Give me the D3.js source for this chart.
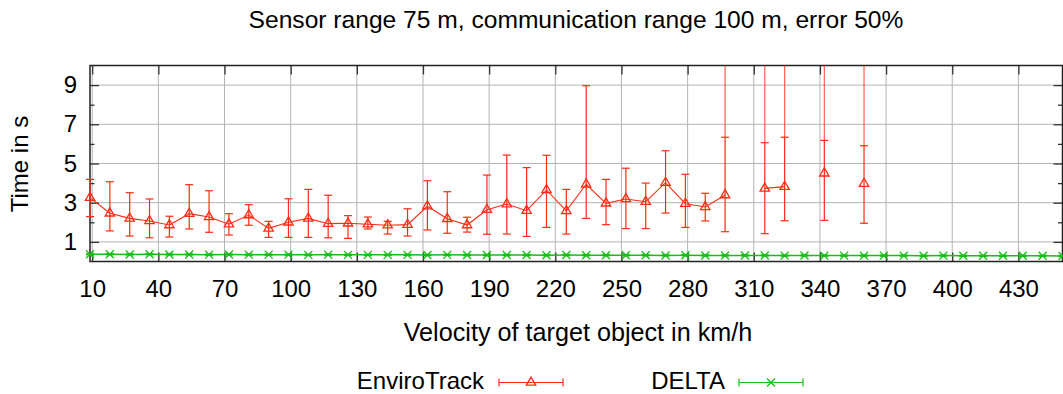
<!DOCTYPE html>
<html>
<head>
<meta charset="utf-8">
<script src="https://cdn.jsdelivr.net/npm/d3@7"></script>
<style>
  body { margin: 0; background: #fff; }
  text { font-family: "Liberation Sans", Arial, Helvetica, sans-serif; fill: #000; }
</style>
</head>
<body>
<svg id="chart" width="1063" height="394"></svg>
<script>
// Target velocities in km/h (steps of 2.5 m/s)
const velocities = [9, 18, 27, 36, 45, 54, 63, 72, 81, 90,
  99, 108, 117, 126, 135, 144, 153, 162, 171, 180,
  189, 198, 207, 216, 225, 234, 243, 252, 261, 270,
  279, 288, 297, 306, 315, 324, 333, 342, 351, 360,
  369, 378, 387, 396, 405, 414, 423, 432, 441, 450];

// EnviroTrack: mean detection time in s (null = no result)
const enviroMean = [3.26, 2.46, 2.20, 2.07, 1.86, 2.44, 2.27, 1.90, 2.37, 1.69,
  2.00, 2.20, 1.93, 1.95, 1.90, 1.85, 1.88, 2.82, 2.18, 1.86,
  2.64, 2.93, 2.59, 3.65, 2.58, 3.94, 2.97, 3.19, 3.05, 4.02,
  2.95, 2.78, 3.39, null, 3.73, 3.82, null, 4.50, null, 3.97,
  null, null, null, null, null, null, null, null, null, null];
const enviroLow = [2.29, 1.56, 1.30, 1.21, 1.25, 1.66, 1.49, 1.35, 1.85, 1.23,
  1.23, 1.23, 1.21, 1.18, 1.66, 1.40, 1.30, 1.61, 1.44, 1.50,
  1.39, 1.40, 1.28, 1.74, 1.40, 2.20, 1.88, 1.68, 1.68, 2.47,
  1.74, 2.07, 1.52, null, 1.42, 2.08, null, 2.10, null, 1.95,
  null, null, null, null, null, null, null, null, null, null];
const enviroHigh = [4.19, 4.07, 3.51, 3.19, 2.31, 3.92, 3.61, 2.44, 2.90, 2.05,
  3.20, 3.68, 3.38, 2.34, 2.27, 2.05, 2.69, 4.12, 3.56, 2.26,
  4.41, 5.43, 4.79, 5.42, 3.68, 8.97, 4.19, 4.76, 4.00, 5.65,
  4.45, 3.48, 6.34, null, 6.06, 6.34, null, 6.18, null, 5.91,
  null, null, null, null, null, null, null, null, null, null];
// Worst-case runs that exceed the plotted range
const enviroPeak = [null, null, null, null, null, null, null, null, null, null,
  null, null, null, null, null, null, null, null, null, null,
  null, null, null, null, null, null, null, null, null, null,
  null, null, 12.5, null, 12.5, 12.5, null, 12.5, null, 12.5,
  null, null, null, null, null, null, null, null, null, null];

// DELTA: mean detection time in s with its spread
const deltaMean = [0.37, 0.37, 0.36, 0.37, 0.36, 0.36, 0.35, 0.36, 0.35, 0.35,
  0.35, 0.34, 0.35, 0.34, 0.34, 0.34, 0.34, 0.33, 0.34, 0.33,
  0.33, 0.33, 0.33, 0.32, 0.33, 0.32, 0.32, 0.32, 0.32, 0.31,
  0.32, 0.31, 0.31, 0.31, 0.31, 0.30, 0.31, 0.30, 0.30, 0.30,
  0.30, 0.30, 0.29, 0.30, 0.29, 0.29, 0.29, 0.29, 0.29, 0.28];
const deltaLow = [0.34, 0.34, 0.33, 0.34, 0.33, 0.33, 0.32, 0.33, 0.32, 0.32,
  0.32, 0.31, 0.32, 0.31, 0.31, 0.31, 0.31, 0.30, 0.31, 0.30,
  0.30, 0.30, 0.30, 0.29, 0.30, 0.29, 0.29, 0.29, 0.29, 0.28,
  0.29, 0.28, 0.28, 0.28, 0.28, 0.27, 0.28, 0.27, 0.27, 0.27,
  0.27, 0.27, 0.26, 0.27, 0.26, 0.26, 0.26, 0.26, 0.26, 0.25];
const deltaHigh = [0.40, 0.40, 0.39, 0.40, 0.39, 0.39, 0.38, 0.39, 0.38, 0.38,
  0.38, 0.37, 0.38, 0.37, 0.37, 0.37, 0.37, 0.36, 0.37, 0.36,
  0.36, 0.36, 0.36, 0.35, 0.36, 0.35, 0.35, 0.35, 0.35, 0.34,
  0.35, 0.34, 0.34, 0.34, 0.34, 0.33, 0.34, 0.33, 0.33, 0.33,
  0.33, 0.33, 0.32, 0.33, 0.32, 0.32, 0.32, 0.32, 0.32, 0.31];

const xTicks = [10, 40, 70, 100, 130, 160, 190, 220, 250, 280, 310, 340, 370, 400, 430];
const yTicks = [1, 3, 5, 7, 9];
const yMinorTicks = [2, 4, 6, 8];

const titleText = "Sensor range 75 m, communication range 100 m, error 50%";
const xLabel = "Velocity of target object in km/h";
const yLabel = "Time in s";
const seriesNames = ["EnviroTrack", "DELTA"];

const RED = "#ff2b14";
const GREEN = "#14c014";

const svg = d3.select("#chart");
const plot = { left: 90, right: 1062.5, top: 65.5, bottom: 261.5 };

const x = d3.scaleLinear().domain([9, 450]).range([plot.left, plot.right]);
const y = d3.scaleLinear().domain([0, 10]).range([plot.bottom, plot.top]);

svg.append("defs").append("clipPath").attr("id", "plotClip")
  .append("rect")
  .attr("x", 0).attr("y", plot.top)
  .attr("width", 1063).attr("height", 394 - plot.top);

// Grid
const grid = svg.append("g").attr("stroke", "#b4b4b4").attr("stroke-width", 1);
grid.selectAll("line.h").data(yTicks).join("line")
  .attr("x1", plot.left).attr("x2", plot.right)
  .attr("y1", d => y(d)).attr("y2", d => y(d));
grid.selectAll("line.v").data(xTicks).join("line")
  .attr("x1", d => x(d)).attr("x2", d => x(d))
  .attr("y1", plot.top).attr("y2", plot.bottom);

// Axes with inward ticks
function styleAxis(g) {
  g.select(".domain").remove();
  g.selectAll(".tick line").attr("stroke", "#333").attr("stroke-width", 1.3);
  g.selectAll(".tick text")
    .style("font-family", '"Liberation Sans", Arial, sans-serif')
    .style("font-size", "24px").attr("fill", "#000");
}
svg.append("g").attr("transform", `translate(0,${plot.bottom})`)
  .call(d3.axisBottom(x).tickValues(xTicks).tickSize(-9).tickPadding(18.5).tickFormat(d3.format("d")))
  .call(styleAxis);
svg.append("g").attr("transform", `translate(0,${plot.top})`)
  .call(d3.axisTop(x).tickValues(xTicks).tickSize(-9).tickFormat(""))
  .call(styleAxis);
svg.append("g").attr("transform", `translate(${plot.left},0)`)
  .call(d3.axisLeft(y).tickValues(yTicks).tickSize(-9).tickPadding(13).tickFormat(d3.format("d")))
  .call(styleAxis);
svg.append("g").attr("transform", `translate(${plot.left},0)`)
  .call(d3.axisLeft(y).tickValues(yMinorTicks).tickSize(-4.5).tickFormat(""))
  .call(styleAxis);
svg.append("g").attr("transform", `translate(${plot.right},0)`)
  .call(d3.axisRight(y).tickValues(yTicks).tickSize(-9).tickFormat(""))
  .call(styleAxis);
svg.append("g").attr("transform", `translate(${plot.right},0)`)
  .call(d3.axisRight(y).tickValues(yMinorTicks).tickSize(-4.5).tickFormat(""))
  .call(styleAxis);

// Border
svg.append("rect")
  .attr("x", plot.left).attr("y", plot.top)
  .attr("width", plot.right - plot.left).attr("height", plot.bottom - plot.top)
  .attr("fill", "none").attr("stroke", "#222").attr("stroke-width", 1.5);

// Marker shapes
const triangle = d3.symbol(d3.symbolTriangle, 38)();
const cross = "M-4,-4L4,4M-4,4L4,-4";
const CAP = 4;

function drawSeries(rows, color, marker, lineWidth) {
  const g = svg.append("g");
  const line = d3.line()
    .defined(d => d.mean != null)
    .x(d => x(d.v)).y(d => y(d.mean));
  g.append("path").datum(rows)
    .attr("d", line).attr("fill", "none")
    .attr("stroke", color).attr("stroke-width", lineWidth);

  const pts = rows.filter(d => d.mean != null);
  const bars = g.append("g").attr("stroke", color).attr("stroke-width", 1.2).attr("fill", "none");
  // Extensions above the plotted range, clipped at the top border
  bars.selectAll("line.peak").data(pts.filter(d => d.peak != null)).join("line")
    .attr("clip-path", "url(#plotClip)")
    .attr("stroke-opacity", 0.75)
    .attr("x1", d => x(d.v)).attr("x2", d => x(d.v))
    .attr("y1", d => y(d.high)).attr("y2", d => y(d.peak));
  bars.selectAll("line.bar").data(pts).join("line")
    .attr("x1", d => x(d.v)).attr("x2", d => x(d.v))
    .attr("y1", d => y(d.low)).attr("y2", d => y(d.high));
  bars.selectAll("line.capLow").data(pts).join("line")
    .attr("x1", d => x(d.v) - CAP).attr("x2", d => x(d.v) + CAP)
    .attr("y1", d => y(d.low)).attr("y2", d => y(d.low));
  bars.selectAll("line.capHigh").data(pts).join("line")
    .attr("x1", d => x(d.v) - CAP).attr("x2", d => x(d.v) + CAP)
    .attr("y1", d => y(d.high)).attr("y2", d => y(d.high));

  g.selectAll("path.mark").data(pts).join("path")
    .attr("d", marker)
    .attr("transform", d => `translate(${x(d.v)},${y(d.mean)})`)
    .attr("fill", "none").attr("stroke", color).attr("stroke-width", 1.3);
}

const deltaRows = velocities.map((v, i) => ({
  v, mean: deltaMean[i], low: deltaLow[i], high: deltaHigh[i], peak: null
}));
const enviroRows = velocities.map((v, i) => ({
  v, mean: enviroMean[i], low: enviroLow[i], high: enviroHigh[i], peak: enviroPeak[i]
}));

drawSeries(deltaRows, GREEN, cross, 1.5);
drawSeries(enviroRows, RED, triangle, 1.1);

// Title and axis labels
svg.append("text")
  .attr("x", 576).attr("y", 28).attr("text-anchor", "middle")
  .style("font-size", "24.6px").text(titleText);
svg.append("text")
  .attr("x", 578).attr("y", 341).attr("text-anchor", "middle")
  .style("font-size", "25.2px").text(xLabel);
svg.append("text")
  .attr("transform", "translate(28,164) rotate(-90)")
  .attr("text-anchor", "middle")
  .style("font-size", "24px").text(yLabel);

// Legend
const legendItems = [
  { name: seriesNames[0], color: RED, marker: triangle, textX: 484, x0: 499, x1: 563 },
  { name: seriesNames[1], color: GREEN, marker: cross, textX: 725, x0: 739, x1: 803 }
];
const legendY = 382.5;
const lg = svg.append("g");
legendItems.forEach(it => {
  lg.append("text").attr("x", it.textX).attr("y", legendY + 6)
    .attr("text-anchor", "end").style("font-size", "24px").text(it.name);
  const s = lg.append("g").attr("stroke", it.color).attr("stroke-width", 1.2).attr("fill", "none");
  s.append("line").attr("x1", it.x0).attr("x2", it.x1).attr("y1", legendY).attr("y2", legendY);
  s.append("line").attr("x1", it.x0).attr("x2", it.x0).attr("y1", legendY - CAP).attr("y2", legendY + CAP);
  s.append("line").attr("x1", it.x1).attr("x2", it.x1).attr("y1", legendY - CAP).attr("y2", legendY + CAP);
  s.append("path").attr("d", it.marker)
    .attr("transform", `translate(${(it.x0 + it.x1) / 2},${legendY})`)
    .attr("stroke-width", 1.3);
});
</script>
</body>
</html>
